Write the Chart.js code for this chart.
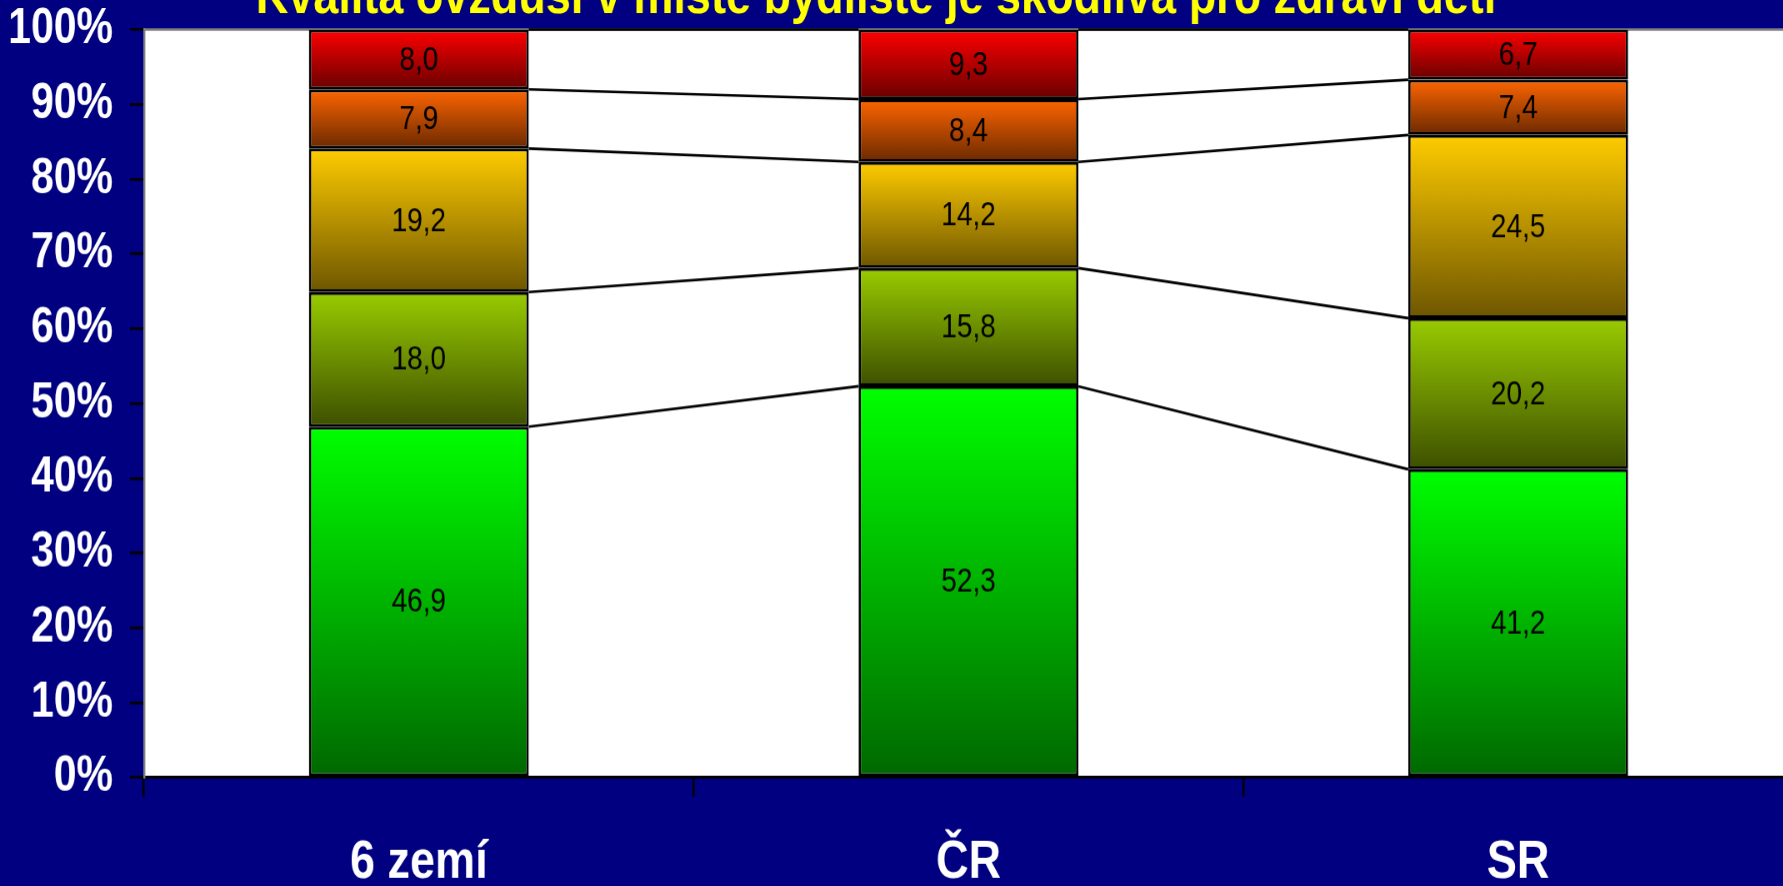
<!DOCTYPE html>
<html lang="cs">
<head>
<meta charset="utf-8">
<title>Kvalita ovzduší v místě bydliště je škodlivá pro zdraví dětí</title>
<script src="https://cdn.jsdelivr.net/npm/chart.js@4"></script>
<style>
  html, body { margin: 0; padding: 0; background: #000080; overflow: hidden; width: 1783px; height: 886px; }
  /* the slide artwork is stretched vertically, so the chart is drawn flatter and scaled up */
  #wrap { position: absolute; left: 0; top: 0; width: 1800px; height: 739px; transform: scaleY(1.2); transform-origin: 0 0; }
  canvas { display: block; }
</style>
</head>
<body>
<div id="wrap"><canvas id="chart" width="1800" height="739"></canvas></div>
<script>
// Answer shares (%) per region, stacked from the bottom segment upwards
const categories   = ['6 zemí', 'ČR', 'SR'];
const greenValues  = [46.9, 52.3, 41.2];
const limeValues   = [18.0, 15.8, 20.2];
const yellowValues = [19.2, 14.2, 24.5];
const orangeValues = [7.9, 8.4, 7.4];
const redValues    = [8.0, 9.3, 6.7];
const yTickValues  = [0, 10, 20, 30, 40, 50, 60, 70, 80, 90, 100];
const titleText    = 'Kvalita ovzduší v místě bydliště je škodlivá pro zdraví dětí';

const FONT = '"Liberation Sans", Arial, Helvetica, sans-serif';

// each segment is shaded from a bright top to a dark bottom
function segmentFill(topColor, bottomColor) {
  return (ctx) => {
    const chart = ctx.chart;
    const yScale = chart.scales.y;
    if (ctx.type !== 'data' || !chart.chartArea || !yScale) return topColor;
    const sets = chart.data.datasets;
    let start = 0;
    for (let k = 0; k < ctx.datasetIndex; k++) start += sets[k].data[ctx.dataIndex];
    const end = start + sets[ctx.datasetIndex].data[ctx.dataIndex];
    const g = chart.ctx.createLinearGradient(0, yScale.getPixelForValue(end), 0, yScale.getPixelForValue(start));
    g.addColorStop(0, topColor);
    g.addColorStop(1, bottomColor);
    return g;
  };
}

function series(label, data, top, bottom) {
  return {
    label, data,
    backgroundColor: segmentFill(top, bottom),
    borderColor: '#000000',
    borderWidth: 2.4,
    borderSkipped: false,
    barPercentage: 0.4,
    categoryPercentage: 1.0
  };
}

const formatValue = (v) => v.toFixed(1).replace('.', ',');

// white plot area with a grey frame
const plotBackground = {
  id: 'plotBackground',
  beforeDraw(chart) {
    const { ctx, chartArea: a } = chart;
    ctx.save();
    ctx.fillStyle = '#ffffff';
    ctx.fillRect(a.left, a.top, a.right - a.left, a.bottom - a.top);
    ctx.restore();
  },
  beforeDatasetsDraw(chart) {
    const { ctx, chartArea: a } = chart;
    ctx.save();
    ctx.strokeStyle = '#808080';
    ctx.lineWidth = 2;
    ctx.beginPath();
    ctx.moveTo(a.left, a.top);
    ctx.lineTo(a.right, a.top);
    ctx.stroke();
    ctx.restore();
  }
};

// lines joining the top of each segment to the same segment of the next bar
const seriesLines = {
  id: 'seriesLines',
  afterDatasetsDraw(chart) {
    const ctx = chart.ctx;
    ctx.save();
    ctx.strokeStyle = '#000000';
    ctx.lineWidth = 2.2;
    chart.data.datasets.forEach((ds, i) => {
      const bars = chart.getDatasetMeta(i).data;
      for (let j = 0; j < bars.length - 1; j++) {
        const a = bars[j].getProps(['x', 'y', 'width'], true);
        const b = bars[j + 1].getProps(['x', 'y', 'width'], true);
        ctx.beginPath();
        ctx.moveTo(a.x + a.width / 2, a.y);
        ctx.lineTo(b.x - b.width / 2, b.y);
        ctx.stroke();
      }
    });
    ctx.restore();
  }
};

// value printed in the middle of each segment
const valueLabels = {
  id: 'valueLabels',
  afterDatasetsDraw(chart) {
    const ctx = chart.ctx;
    ctx.save();
    ctx.font = '28px ' + FONT;
    ctx.fillStyle = '#000000';
    ctx.textAlign = 'center';
    ctx.textBaseline = 'middle';
    chart.data.datasets.forEach((ds, i) => {
      chart.getDatasetMeta(i).data.forEach((bar, j) => {
        const p = bar.getProps(['x', 'y', 'base'], true);
        ctx.fillText(formatValue(ds.data[j]), p.x, (p.y + p.base) / 2 + 1);
      });
    });
    ctx.restore();
  }
};

// slide heading, running off the top edge
const slideTitle = {
  id: 'slideTitle',
  afterDraw(chart) {
    const ctx = chart.ctx;
    ctx.save();
    ctx.font = 'bold 45px ' + FONT;
    ctx.fillStyle = '#ffff00';
    ctx.textAlign = 'center';
    ctx.textBaseline = 'alphabetic';
    ctx.fillText(titleText, 876, 11);
    ctx.restore();
  }
};

new Chart(document.getElementById('chart'), {
  type: 'bar',
  data: {
    labels: categories,
    datasets: [
      series('zelená', greenValues, '#00ff00', '#006800'),
      series('žlutozelená', limeValues, '#99cc00', '#3e5000'),
      series('žlutá', yellowValues, '#ffcc00', '#6e5600'),
      series('oranžová', orangeValues, '#ff6600', '#6b2900'),
      series('červená', redValues, '#ff0000', '#680000')
    ]
  },
  options: {
    responsive: false,
    devicePixelRatio: 1.2,
    animation: false,
    events: [],
    layout: { padding: { top: 24.6, right: 7, left: 0, bottom: 0 } },
    plugins: { legend: { display: false }, tooltip: { enabled: false }, title: { display: false } },
    scales: {
      x: {
        stacked: true,
        afterFit: (s) => { s.height = 91.75; s.paddingLeft = 0; s.paddingRight = 0; },
        grid: { offset: true, drawOnChartArea: false, drawTicks: true, tickLength: 16, color: '#000000', lineWidth: 2.2 },
        border: { display: true, color: '#000000', width: 2.2 },
        ticks: { color: '#ffffff', padding: 28.5, font: { family: FONT, size: 45, weight: 'bold' } }
      },
      y: {
        stacked: true,
        min: 0,
        max: 100,
        afterFit: (s) => { s.width = 144; s.paddingTop = 0; s.paddingBottom = 0; },
        afterBuildTicks: (s) => { s.ticks = yTickValues.map(v => ({ value: v })); },
        grid: { drawOnChartArea: false, drawTicks: true, tickLength: 14, color: '#000000', lineWidth: 2.2 },
        border: { display: true, color: '#808080', width: 2 },
        ticks: { color: '#ffffff', padding: 17, callback: (v) => v + '%', font: { family: FONT, size: 41, weight: 'bold' } }
      }
    }
  },
  plugins: [plotBackground, seriesLines, valueLabels, slideTitle]
});
</script>
</body>
</html>
